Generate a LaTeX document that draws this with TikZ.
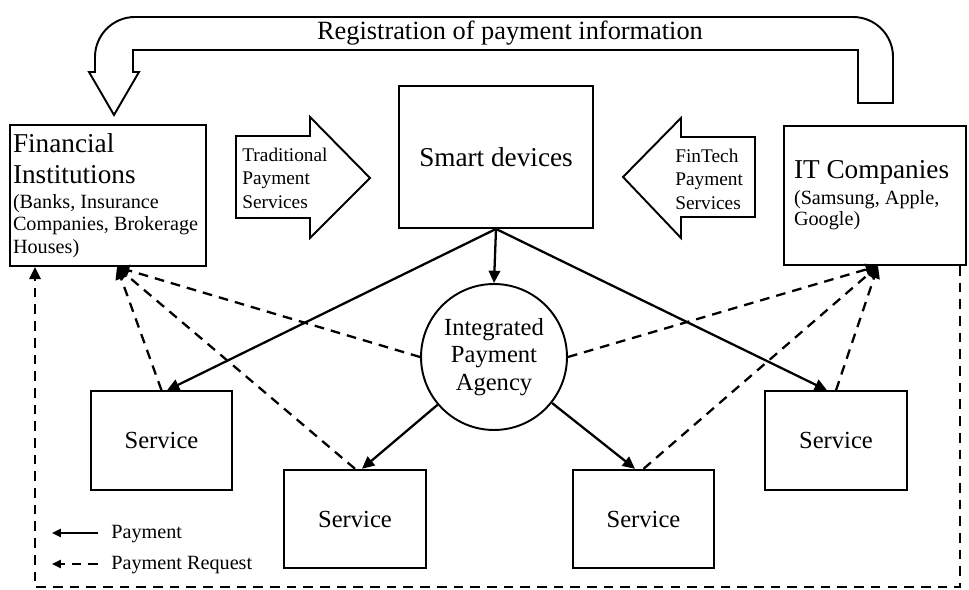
\documentclass[tikz,border=0pt]{standalone}
\usepackage{fontspec}
\setmainfont{Liberation Serif}
\frenchspacing
\usetikzlibrary{arrows.meta,positioning}
\newcommand{\plainspaces}{\raggedright\spaceskip=0pt\xspaceskip=0pt\relax}

\begin{document}
\begin{tikzpicture}[
  x=0.02cm,y=-0.02cm,
  box/.style={draw,line width=1.1pt,inner sep=0pt},
  service/.style={box,minimum width=2.83cm,minimum height=1.97cm,font=\fontsize{14}{16}\selectfont},
  fat/.style={draw,line width=1.1pt,line join=miter},
  pay/.style={line width=1.3pt,-{Triangle[length=7pt,width=6.5pt]}},
  request/.style={line width=1.3pt,dash pattern=on 5.5pt off 4pt,-{Triangle[length=7pt,width=6.5pt]}},
  keytip/.style={line width=1.3pt,-{Triangle[length=5pt,width=4.5pt]}}
]
  \useasboundingbox (0,0) rectangle (969,590);

  % registration loop arrow
  \draw[fat] (858,103) -- (858,50) -- (133,50) -- (133,72) -- (139,72) -- (114,115)
    -- (89,72) -- (95,72) -- (95,60) [rounded corners=0.8cm] -- (95,17) -- (893,17)
    [sharp corners] -- (893,103) -- cycle;
  \node[font=\fontsize{15}{18}\selectfont,anchor=base] (reg) at (510,40) {Registration of payment information};

  % side arrows
  \draw[fat] (236,136) -- (310,136) -- (310,117) -- (370,178) -- (310,238) -- (310,218) -- (236,218) -- cycle;
  \draw[fat] (755,137) -- (681,137) -- (681,118) -- (623,177) -- (681,238) -- (681,217) -- (755,217) -- cycle;
  \node[anchor=west,align=left,inner sep=0pt,font=\fontsize{11}{13.4}\selectfont] (trad) at (242,178) {Traditional\\Payment\\Services};
  \node[anchor=west,align=left,inner sep=0pt,font=\fontsize{11}{13.4}\selectfont] (fintech) at (675,179) {FinTech\\Payment\\Services};

  % main boxes
  \node[box,minimum width=3.92cm,minimum height=2.82cm,text width=3.8cm,align=left,
    font=\fontsize{15.5}{17.6}\selectfont] (fi) at (108,195.5)
    {\plainspaces Financial\\Institutions\par\vspace{1.4pt}\fontsize{11.5}{12.8}\selectfont\plainspaces (Banks, Insurance\\Companies, Brokerage\\Houses)\par};
  \node[box,minimum width=3.88cm,minimum height=2.84cm,font=\fontsize{15.5}{18}\selectfont] (sd) at (496,157) {Smart devices};
  \node[box,minimum width=3.64cm,minimum height=2.78cm,text width=3.24cm,align=left,
    font=\fontsize{15.5}{17.6}\selectfont] (it) at (875,195.5)
    {\plainspaces IT Companies\par\vspace{2.8pt}\fontsize{11.5}{12}\selectfont\plainspaces (Samsung, Apple,\\Google)\par\vspace{0.2cm}};
  \node[draw,circle,line width=1.1pt,minimum size=2.92cm,inner sep=0pt,align=center,
    font=\fontsize{14}{15.6}\selectfont] (ipa) at (494,357) {Integrated\\Payment\\Agency};

  \node[service] (s1) at (161.5,440.5) {Service};
  \node[service] (s2) at (355,519) {Service};
  \node[service] (s3) at (643.5,519) {Service};
  \node[service] (s4) at (836,440.5) {Service};

  % payments
  \draw[pay] (sd.south) -- (ipa.north);
  \draw[pay] (sd.south) -- ([xshift=0.11cm]s1.north);
  \draw[pay] (sd.south) -- ([xshift=-0.18cm]s4.north);
  \draw[pay] (ipa) -- ([xshift=0.14cm]s2.north);
  \draw[pay] (ipa) -- ([xshift=-0.17cm]s3.north);

  % payment requests
  \coordinate (fihub) at ([xshift=0.18cm]fi.south);
  \coordinate (ithub) at ([xshift=0.06cm]it.south);
  \foreach \src in {s1.north,s2.north,ipa.west}
    \draw[request] (\src) -- (fihub);
  \foreach \src in {ipa.east,s3.north,s4.north}
    \draw[request] (\src) -- (ithub);

  \coordinate (rb) at (960,587);
  \coordinate (lb) at (35,587);
  \draw[request] (it.south -| rb) -- (rb) -- (lb) -- (fi.south -| lb);

  % legend
  \node[anchor=base west,inner sep=0pt,font=\fontsize{11.5}{14}\selectfont] (lpay) at (111,538) {Payment};
  \node[anchor=base west,inner sep=0pt,font=\fontsize{11.5}{14}\selectfont] (lreq) at (111,569) {Payment Request};
  \coordinate (payfrom) at (98,533);
  \coordinate (payto) at (52,533);
  \coordinate (reqfrom) at (98,564);
  \coordinate (reqto) at (52,564);
  \draw[keytip] (payfrom) -- (payto);
  \draw[keytip,dash pattern=on 5.5pt off 4pt] (reqfrom) -- (reqto);
\end{tikzpicture}
\end{document}
